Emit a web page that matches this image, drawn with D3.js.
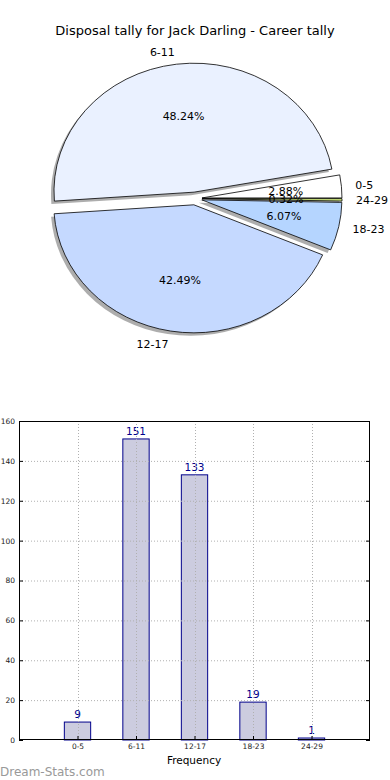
<!DOCTYPE html>
<html>
<head>
<meta charset="utf-8">
<script src="https://cdn.jsdelivr.net/npm/d3@7"></script>
<style>
  body { margin: 0; background: #fff; }
  svg { display: block; font-family: "DejaVu Sans", sans-serif; }
</style>
</head>
<body>
<div id="chart"></div>
<script>
// Chart data
const categories = ['0-5', '6-11', '12-17', '18-23', '24-29'];
const counts = [9, 151, 133, 19, 1];
const sliceColors = ['#ffffff', '#eaf1ff', '#c5d9ff', '#b5d5ff', '#c8e07a'];
const yTicks = [0, 20, 40, 60, 80, 100, 120, 140, 160];

const width = 390, height = 780;
const svg = d3.select('#chart').append('svg')
  .attr('width', width)
  .attr('height', height);

// Title
svg.append('text')
  .attr('x', 195).attr('y', 35)
  .attr('text-anchor', 'middle')
  .attr('font-size', 13)
  .text('Disposal tally for Jack Darling - Career tally');

// Pie (elliptical, like the stretched matplotlib axes)
const cx = 195, cy = 198.5, rx = 140, ry = 128, explode = 0.05;
const total = d3.sum(counts);

// matplotlib starts at east and goes counter-clockwise
const pie = d3.pie().sort(null)
  .startAngle(Math.PI / 2)
  .endAngle(Math.PI / 2 - 2 * Math.PI);
const arcs = pie(counts);
const unitArc = d3.arc().innerRadius(0).outerRadius(1);

arcs.forEach(a => {
  const mid = (a.startAngle + a.endAngle) / 2;
  a.ux = Math.sin(mid);
  a.uy = -Math.cos(mid);
  a.ox = cx + explode * rx * a.ux;
  a.oy = cy + explode * ry * a.uy;
});

// shadows first
const shadowG = svg.append('g');
arcs.forEach(a => {
  shadowG.append('path')
    .attr('transform', `translate(${a.ox - 3},${a.oy + 3}) scale(${rx},${ry})`)
    .attr('d', unitArc(a))
    .attr('fill', '#777')
    .attr('fill-opacity', 0.6);
});

const sliceG = svg.append('g');
arcs.forEach((a, i) => {
  sliceG.append('path')
    .attr('transform', `translate(${a.ox},${a.oy}) scale(${rx},${ry})`)
    .attr('d', unitArc(a))
    .attr('fill', sliceColors[i])
    .attr('stroke', '#000')
    .attr('stroke-width', 0.8)
    .attr('vector-effect', 'non-scaling-stroke');
});

// category labels at 1.1 radius
arcs.forEach((a, i) => {
  svg.append('text')
    .attr('x', a.ox + 1.1 * rx * a.ux)
    .attr('y', a.oy + 1.1 * ry * a.uy)
    .attr('dy', '0.35em')
    .attr('text-anchor', a.ux > 0 ? 'start' : 'end')
    .attr('font-size', 11)
    .text(categories[i]);
});

// percentage labels at 0.6 radius
arcs.forEach((a, i) => {
  svg.append('text')
    .attr('x', a.ox + 0.6 * rx * a.ux)
    .attr('y', a.oy + 0.6 * ry * a.uy)
    .attr('dy', '0.35em')
    .attr('text-anchor', 'middle')
    .attr('font-size', 11)
    .text((counts[i] / total * 100).toFixed(2) + '%');
});

// Bar chart
const plotL = 19, plotR = 370, plotT = 421, plotB = 740;
const x = d3.scaleLinear().domain([-1, 5]).range([plotL, plotR]);
const y = d3.scaleLinear().domain([0, 160]).range([plotB, plotT]);
const barW = 0.45;

const bars = svg.append('g');
bars.selectAll('rect')
  .data(counts)
  .enter()
  .append('rect')
  .attr('x', (d, i) => x(i - barW / 2))
  .attr('width', x(barW) - x(0))
  .attr('y', d => y(d))
  .attr('height', d => y(0) - y(d))
  .attr('fill', '#ccccdf')
  .attr('stroke', '#00008b')
  .attr('stroke-width', 1);

// grid on top of bars
const grid = svg.append('g')
  .attr('stroke', '#b0b0b0')
  .attr('stroke-width', 1)
  .attr('stroke-dasharray', '1,2');
yTicks.slice(1, -1).forEach(t => {
  grid.append('line')
    .attr('x1', plotL).attr('x2', plotR)
    .attr('y1', y(t) + 0.5).attr('y2', y(t) + 0.5);
});
categories.forEach((c, i) => {
  grid.append('line')
    .attr('x1', Math.round(x(i)) + 0.5).attr('x2', Math.round(x(i)) + 0.5)
    .attr('y1', plotT).attr('y2', plotB);
});

// value labels
bars.selectAll('text')
  .data(counts)
  .enter()
  .append('text')
  .attr('x', (d, i) => x(i))
  .attr('y', d => y(d) - 4)
  .attr('text-anchor', 'middle')
  .attr('font-size', 10.5)
  .attr('fill', '#00008b')
  .text(d => d);

// frame
svg.append('rect')
  .attr('x', plotL + 0.5).attr('y', plotT + 0.5)
  .attr('width', plotR - plotL - 1).attr('height', plotB - plotT - 1)
  .attr('fill', 'none')
  .attr('stroke', '#000')
  .attr('stroke-width', 1);

// y axis (inside ticks)
const yAxis = svg.append('g')
  .attr('transform', `translate(${plotL},0)`)
  .call(d3.axisLeft(y).tickValues(yTicks).tickSize(-4).tickPadding(4));
yAxis.select('.domain').remove();
yAxis.selectAll('text').attr('font-size', 7.5).attr('fill', '#222')
  .attr('font-family', '"DejaVu Sans", sans-serif');

const yAxisR = svg.append('g')
  .attr('transform', `translate(${plotR},0)`)
  .call(d3.axisRight(y).tickValues(yTicks).tickSize(-4).tickFormat(''));
yAxisR.select('.domain').remove();

// x axis
const xAxis = svg.append('g')
  .attr('transform', `translate(0,${plotB})`)
  .call(d3.axisBottom(x).tickValues(d3.range(categories.length))
    .tickFormat(i => categories[i]).tickSize(-4).tickPadding(4));
xAxis.select('.domain').remove();
xAxis.selectAll('text').attr('font-size', 7.5).attr('fill', '#222')
  .attr('font-family', '"DejaVu Sans", sans-serif');

svg.append('text')
  .attr('x', 194).attr('y', 764)
  .attr('text-anchor', 'middle')
  .attr('font-size', 10.5)
  .text('Frequency');

// watermark
svg.append('text')
  .attr('x', 0).attr('y', 776)
  .attr('font-size', 12)
  .attr('fill', '#999')
  .text('Dream-Stats.com');
</script>
</body>
</html>
